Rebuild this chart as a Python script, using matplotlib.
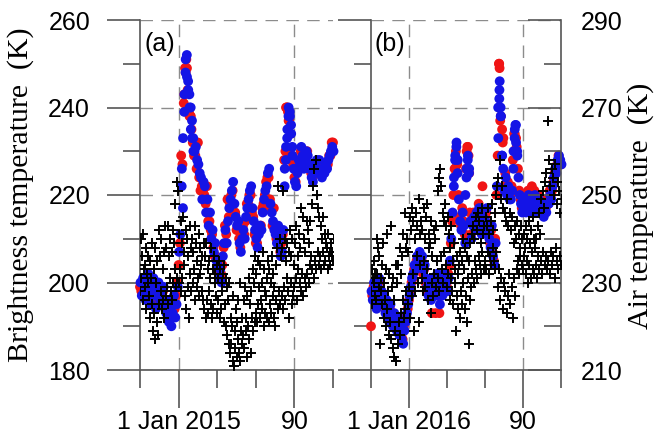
import numpy as np
import matplotlib
matplotlib.use('Agg')
import matplotlib.pyplot as plt

plt.rcParams['font.family'] = ['Liberation Sans', 'DejaVu Sans']

# ---------------- data ----------------
days = np.arange(-30, 121)          # days relative to 1 Jan
xtick_labels_a = ['1 Jan 2015', '90']
xtick_labels_b = ['1 Jan 2016', '90']

# Panel (a) brightness temperature (K)
tb_a_blue = [200, 197, 201, 198, 196, 200, 202, 197, 195, 199,
             201, 197, 194, 198, 200, 196, 198, 195, 199, 196,
             193, 196, 191, 194, 190, 193, 197, 192, 195, 199,
             207, 211, 222, 217, 239, 248, 252, 246, 243, 240,
             237, 233, 230, 231, 228, 227, 225, 224, 219, 223,
             222, 216, 219, 213, 216, 210, 212, 207, 209, 205,
             204, 201, 203, 200, 206, 209, 212, 209, 214, 217,
             219, 221, 223, 218, 215, 213, 214, 209, 207, 210,
             212, 210, 215, 217, 219, 221, 222, 217, 214, 212,
             210, 208, 211, 213, 212, 216, 219, 221, 222, 225,
             226, 218, 216, 214, 212, 211, 209, 213, 210, 206,
             207, 212, 222, 228, 233, 238, 239, 236, 231, 226,
             223, 222, 225, 228, 227, 231, 229, 226, 228, 230,
             229, 226, 227, 224, 223, 226, 225, 228, 226, 228,
             225, 224, 226, 225, 227, 226, 228, 229, 230, 231, 230]
tb_a_red = [199, 198, 200, 197, 197, 199, 201, 198, 196, 198,
            200, 196, 195, 197, 199, 197, 197, 196, 198, 195,
            194, 195, 192, 193, 192, 194, 196, 194, 197, 200,
            204, 209, 229, 227, 241, 249, 251, 244, 239, 238,
            235, 232, 229, 229, 226, 232, 224, 221, 222, 221,
            220, 218, 222, 214, 214, 212, 211, 208, 206, 206,
            203, 202, 201, 202, 204, 208, 213, 211, 219, 215,
            218, 220, 221, 216, 216, 212, 212, 210, 208, 211,
            213, 211, 214, 218, 218, 220, 220, 216, 215, 211,
            209, 209, 212, 212, 213, 217, 218, 220, 223, 224,
            224, 219, 217, 213, 217, 212, 210, 212, 211, 207,
            209, 211, 228, 230, 240, 239, 237, 234, 229, 227,
            224, 223, 226, 227, 228, 230, 230, 227, 227, 229,
            230, 227, 226, 225, 224, 225, 226, 227, 227, 227,
            226, 225, 225, 226, 226, 227, 227, 229, 229, 232, 232]
extra_a_blue_days = [2.5, 3.5, 4.5, 5.5, 6.5, 7.5, 8.5, 9.5, 10.5, 11.5,
                     82.5, 83.5, 84.5, 85.5, 86.5, 87.5, 88.5]
extra_a_blue = [226, 233, 243, 251, 247, 244, 240, 235, 233, 230,
                226, 231, 235, 240, 238, 234, 229]
extra_a_red_days = [4.5, 5.5, 6.5, 8.5, 9.5, 83.5, 84.5, 85.5]
extra_a_red = [243, 248, 249, 238, 238, 240, 240, 237]

# Panel (b) brightness temperature (K)
tb_b_blue = [198, 196, 200, 197, 194, 199, 201, 196, 198, 195,
             197, 193, 196, 194, 191, 195, 192, 190, 193, 191,
             189, 192, 188, 190, 187, 186, 189, 191, 193, 195,
             197, 199, 201, 202, 204, 203, 206, 205, 207, 204,
             206, 203, 204, 201, 199, 197, 200, 196, 198, 201,
             199, 197, 202, 198, 195, 200, 197, 199, 202, 200,
             198, 201, 205, 210, 216, 222, 228, 231, 225, 219,
             214, 212, 216, 213, 209, 224, 228, 225, 214, 210,
             213, 215, 212, 216, 214, 217, 213, 211, 215, 212,
             214, 217, 212, 210, 208, 213, 206, 204, 209, 222,
             240, 244, 238, 229, 226, 221, 224, 220, 222, 219,
             219, 221, 226, 233, 236, 230, 224, 220, 218, 216,
             217, 219, 216, 218, 220, 217, 219, 216, 218, 220,
             218, 216, 219, 217, 216, 218, 215, 217, 216, 218,
             218, 220, 219, 222, 224, 226, 225, 228, 229, 228, 227]
tb_b_red = [190, 197, 199, 196, 195, 198, 200, 197, 197, 196,
            196, 194, 195, 193, 192, 194, 193, 191, 192, 192,
            190, 191, 189, 191, 188, 187, 190, 192, 192, 194,
            196, 198, 200, 201, 203, 204, 205, 204, 206, 205,
            205, 202, 203, 200, 198, 198, 199, 197, 193, 200,
            200, 193, 201, 197, 193, 199, 198, 198, 201, 199,
            199, 202, 204, 209, 214, 220, 226, 230, 227, 220,
            215, 213, 217, 214, 211, 226, 231, 229, 216, 211,
            214, 216, 213, 215, 215, 218, 214, 212, 222, 213,
            215, 216, 213, 211, 209, 212, 207, 205, 210, 220,
            229, 250, 237, 233, 232, 222, 225, 221, 223, 220,
            220, 222, 228, 234, 233, 231, 226, 221, 219, 217,
            218, 220, 217, 219, 221, 218, 220, 222, 219, 221,
            219, 217, 220, 218, 217, 219, 216, 218, 217, 219,
            218, 221, 220, 221, 223, 225, 226, 227, 229, 228, 227]
extra_b_blue_days = [35.5, 36.5, 37.5, 38.5, 44.5, 45.5, 46.5, 47.5,
                     70.5, 71.3, 71.6, 72.3, 72.6, 73.5,
                     82.5, 83.5, 84.0, 84.5, 85.5]
extra_b_blue = [224, 229, 232, 228, 220, 226, 229, 226,
                233, 242, 246, 240, 238, 229,
                230, 235, 236, 232, 229]
extra_b_red_days = [36.5, 37.5, 45.5, 46.5, 47.5, 71.2, 71.5, 72.5, 73.5,
                    74.5, 83.5, 84.5]
extra_b_red = [226, 225, 230, 231, 225, 250, 249, 238, 235, 233, 234, 233]

# Air temperature (K), two readings per day
air_a_1 = [228, 231, 226, 233, 229, 224, 230, 227, 222, 225,
           219, 223, 217, 221, 218, 225, 228, 224, 226, 222,
           227, 229, 225, 231, 228, 226, 230, 233, 229, 231,
           230, 233, 228, 231, 234, 227, 224, 229, 222, 232,
           228, 230, 233, 226, 229, 231, 227, 232, 228, 226,
           224, 222, 226, 223, 228, 225, 222, 224, 230, 227,
           223, 226, 222, 224, 228, 221, 225, 220, 218, 216,
           214, 216, 212, 211, 215, 213, 217, 214, 212, 216,
           218, 215, 219, 213, 220, 217, 214, 222, 219, 221,
           223, 221, 225, 222, 226, 224, 220, 223, 227, 222,
           221, 225, 223, 227, 222, 220, 226, 224, 228, 225,
           227, 224, 229, 226, 231, 228, 222, 230, 225, 227,
           229, 231, 226, 233, 230, 228, 232, 227, 231, 229,
           232, 230, 234, 236, 233, 231, 235, 233, 237, 234,
           236, 233, 237, 234, 235, 238, 233, 236, 234, 237, 235]
air_a_2 = [240, 236, 241, 234, 238, 232, 236, 235, 231, 239,
           233, 238, 230, 235, 242, 236, 240, 233, 237, 243,
           238, 243, 236, 240, 237, 242, 239, 248, 253, 251,
           241, 244, 239, 245, 237, 242, 240, 236, 243, 238,
           240, 237, 243, 239, 235, 241, 238, 234, 236, 239,
           236, 239, 233, 235, 231, 238, 233, 236, 232, 234,
           231, 235, 233, 230, 232, 234, 231, 229, 226, 230,
           222, 220, 227, 219, 224, 221, 226, 230, 219, 222,
           226, 229, 222, 227, 231, 225, 228, 233, 230, 236,
           232, 235, 229, 234, 230, 237, 233, 228, 231, 235,
           233, 230, 236, 232, 229, 234, 238, 252, 240, 236,
           238, 251, 240, 235, 239, 237, 242, 236, 240, 234,
           239, 243, 236, 241, 238, 247, 245, 240, 237, 244,
           242, 239, 244, 248, 252, 256, 258, 250, 247, 245,
           243, 240, 245, 241, 239, 238, 241, 237, 239, 236, 240]
air_b_1 = [228, 225, 230, 227, 226, 232, 229, 216, 228, 225,
           222, 226, 220, 224, 218, 221, 217, 215, 213, 219,
           212, 216, 221, 218, 223, 226, 222, 224, 228, 225,
           229, 222, 227, 232, 219, 228, 236, 230, 221, 234,
           231, 228, 235, 229, 233, 226, 238, 223, 230, 227,
           232, 229, 235, 231, 228, 236, 233, 230, 237, 234,
           229, 232, 226, 231, 228, 225, 230, 219, 227, 224,
           222, 228, 225, 230, 224, 227, 221, 216, 226, 229,
           232, 230, 235, 233, 231, 236, 234, 232, 237, 233,
           235, 233, 237, 232, 236, 234, 238, 235, 233, 237,
           229, 233, 226, 231, 224, 230, 228, 223, 227, 232,
           225, 229, 222, 231, 227, 233, 235, 232, 236, 234,
           233, 236, 232, 235, 230, 234, 231, 237, 233, 232,
           234, 231, 236, 233, 235, 232, 237, 234, 236, 233,
           235, 232, 237, 234, 236, 231, 238, 235, 233, 236, 234]
air_b_2 = [233, 231, 235, 232, 240, 238, 236, 231, 234, 239,
           230, 233, 241, 228, 232, 243, 229, 231, 226, 234,
           230, 234, 238, 232, 236, 241, 246, 238, 240, 237,
           245, 242, 247, 244, 240, 246, 243, 249, 241, 244,
           242, 247, 240, 245, 248, 241, 239, 244, 236, 242,
           240, 243, 251, 254, 256, 252, 246, 244, 248, 243,
           245, 241, 238, 243, 235, 239, 233, 236, 232, 234,
           237, 235, 240, 233, 238, 236, 231, 235, 239, 241,
           243, 240, 245, 242, 246, 244, 239, 247, 241, 243,
           245, 243, 247, 241, 244, 248, 242, 246, 250, 252,
           254, 258, 249, 252, 247, 246, 244, 249, 243, 246,
           242, 245, 239, 243, 240, 244, 241, 238, 243, 240,
           241, 238, 243, 240, 244, 239, 242, 245, 240, 238,
           240, 243, 246, 241, 249, 251, 247, 253, 255, 267,
           258, 252, 256, 254, 250, 257, 248, 253, 251, 246, 249]

# ---------------- figure ----------------
W, H = 654, 442
fig = plt.figure(figsize=(W / 100, H / 100), dpi=100)


def rect(l, b, r, t):
    return [l / W, (H - b) / H, (r - l) / W, (b - t) / H]


ax1 = fig.add_axes(rect(140, 370, 333, 20))
ax2 = fig.add_axes(rect(371, 370, 561, 20))

axcol = '#555555'
grid_kw = dict(color='#8c8c8c', linestyle=(0, (9, 6)), linewidth=1.0)
red = '#f01414'
blue = '#1414e6'
dot_s = 50

for ax in (ax1, ax2):
    ax.set_xlim(-30, 120)
    ax.set_ylim(180, 260)
    ax.set_xticks([0, 90])
    ax.set_xticks([-30, 30, 60, 120], minor=True)
    ax.set_yticks(range(180, 261, 20))
    ax.set_yticks(range(190, 251, 20), minor=True)
    ax.grid(True, which='major', **grid_kw)
    ax.set_axisbelow(True)
    ax.spines['top'].set_visible(False)
    ax.spines['right'].set_visible(False)
    for s in ('left', 'bottom'):
        ax.spines[s].set_color(axcol)
        ax.spines[s].set_linewidth(1.2)
    ax.tick_params(axis='y', which='major', direction='out', length=24, width=1.2,
                   color=axcol, pad=12, labelsize=18)
    ax.tick_params(axis='y', which='minor', direction='out', length=12, width=1.2,
                   color=axcol)
    ax.tick_params(axis='x', which='major', direction='out', length=27, width=1.2,
                   color=axcol, pad=2, labelsize=18)
    ax.tick_params(axis='x', which='minor', direction='out', length=13, width=1.2,
                   color=axcol)

ax1.set_xticklabels(xtick_labels_a)
ax2.set_xticklabels(xtick_labels_b)
ax2.set_yticklabels([])

# brightness temperature dots
for ax, r, b, erd, er, ebd, eb in (
        (ax1, tb_a_red, tb_a_blue, extra_a_red_days, extra_a_red, extra_a_blue_days, extra_a_blue),
        (ax2, tb_b_red, tb_b_blue, extra_b_red_days, extra_b_red, extra_b_blue_days, extra_b_blue)):
    ax.scatter(days, r, s=dot_s, c=red, edgecolors='none', zorder=3, clip_on=False)
    ax.scatter(erd, er, s=dot_s, c=red, edgecolors='none', zorder=3, clip_on=False)
    ax.scatter(days + 0.4, b, s=dot_s, c=blue, edgecolors='none', zorder=4, clip_on=False)
    ax.scatter(ebd, eb, s=dot_s, c=blue, edgecolors='none', zorder=4, clip_on=False)

# air temperature axes
ax1t = ax1.twinx()
ax1t.set_ylim(210, 290)
ax1t.set_yticks([])
for s in ax1t.spines.values():
    s.set_visible(False)

ax2t = ax2.twinx()
ax2t.set_ylim(210, 290)
ax2t.set_yticks(range(210, 291, 20))
ax2t.set_yticks(range(220, 281, 20), minor=True)
for s in ('left', 'top', 'bottom'):
    ax2t.spines[s].set_visible(False)
ax2t.spines['right'].set_color(axcol)
ax2t.spines['right'].set_linewidth(1.2)
ax2t.tick_params(axis='y', which='major', direction='in', length=24, width=1.2,
                 color=axcol, pad=14, labelsize=18)
ax2t.tick_params(axis='y', which='minor', direction='in', length=12, width=1.2,
                 color=axcol)

for axt, a1, a2 in ((ax1t, air_a_1, air_a_2), (ax2t, air_b_1, air_b_2)):
    axt.scatter(days, a1, marker='+', s=50, c='black', linewidths=1.4, zorder=5)
    axt.scatter(days + 0.5, a2, marker='+', s=50, c='black', linewidths=1.4, zorder=5)

ax1.text(0.025, 0.965, '(a)', transform=ax1.transAxes, ha='left', va='top', fontsize=18)
ax2.text(0.02, 0.965, '(b)', transform=ax2.transAxes, ha='left', va='top', fontsize=18)

fig.text(21 / W, 1 - 195 / H, 'Brightness temperature  (K)', rotation=90,
         ha='center', va='center', family='Liberation Serif', fontsize=21.5)
fig.text(641 / W, 1 - 206 / H, 'Air temperature  (K)', rotation=90,
         ha='center', va='center', family='Liberation Serif', fontsize=21.5)

fig.savefig('out.png', dpi=100)
